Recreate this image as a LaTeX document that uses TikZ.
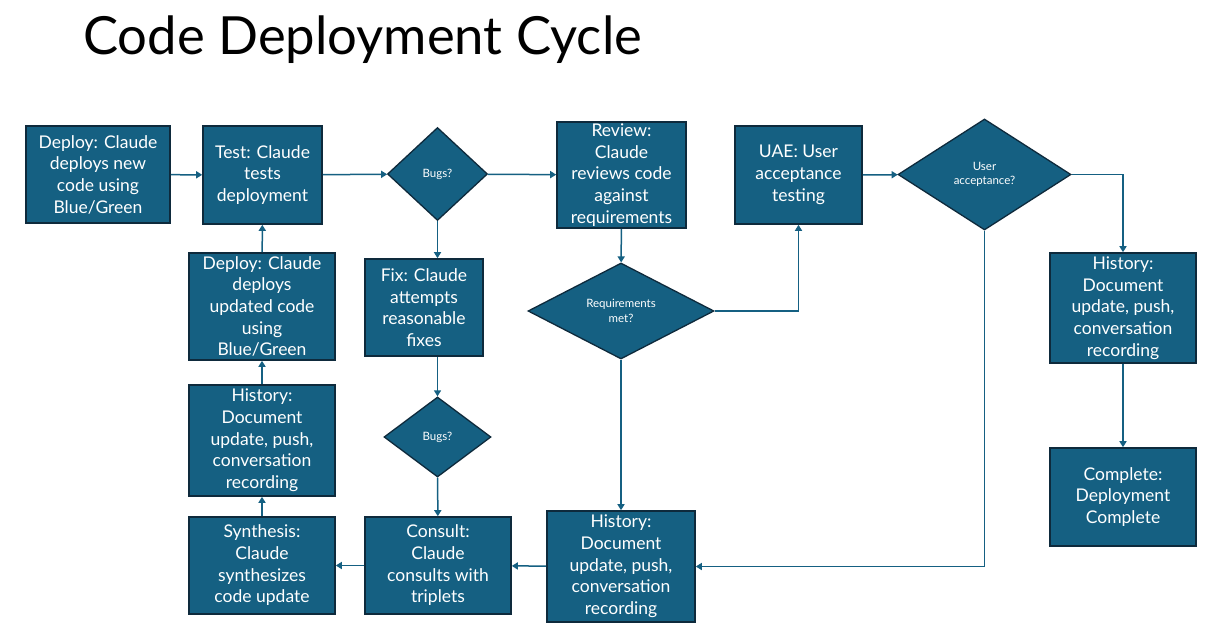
\documentclass[tikz,border=0pt]{standalone}
\usepackage{fontspec}
\setmainfont{Lato}
\usetikzlibrary{shapes.geometric,arrows.meta}
\definecolor{flowblue}{HTML}{156082}
\definecolor{flowedge}{HTML}{0E2A3C}
\begin{document}
\begin{tikzpicture}[
        x=1pt, y=-1pt,
        stepbox/.style={
            rectangle,
            draw=flowedge,
            fill=flowblue,
            line width=1.6pt,
            inner sep=0pt,
            text=white,
            align=center,
            font=\fontsize{17.5}{21.7}\selectfont
        },
        decision/.style={
            diamond,
            draw=flowedge,
            fill=flowblue,
            line width=1.3pt,
            inner sep=0pt,
            text=white,
            align=center,
            font=\fontsize{11.5}{14.5}\selectfont
        },
        arrow/.style={
            -{Triangle[width=7pt, length=6pt]},
            line width=1.5pt,
            draw=flowblue
        },
        title/.style={
            font=\fontsize{52.6}{58}\selectfont,
            inner sep=0pt
        }
    ]

    \fill[white] (0,0) rectangle (1216,626);

    % --- Title ---
    \node[title, anchor=base west] (title) at (83,55) {Code Deployment Cycle};

    % --- Top row ---
    \node[stepbox, minimum width=144pt, minimum height=97pt] (deploy) at (98,174.5) {Deploy: Claude\\deploys new\\code using\\Blue/Green};
    \node[stepbox, minimum width=119pt, minimum height=98pt] (test) at (262.5,175) {Test: Claude\\tests\\deployment};
    \node[decision, minimum width=100pt, minimum height=93pt] (bugs) at (437.5,174) {Bugs?};
    \node[stepbox, minimum width=129pt, minimum height=106pt] (review) at (621.5,175) {Review:\\Claude\\reviews code\\against\\requirements};
    \node[stepbox, minimum width=127pt, minimum height=98pt] (uae) at (798.5,175) {UAE: User\\acceptance\\testing};
    \node[decision, minimum width=173pt, minimum height=111pt] (accept) at (984.5,174.5) {User\\acceptance?};

    % --- Fix loop ---
    \node[stepbox, minimum width=118pt, minimum height=97pt] (fix) at (424,307.5) {Fix: Claude\\attempts\\reasonable\\fixes};
    \node[decision, minimum width=107pt, minimum height=80pt] (rebugs) at (437.5,437) {Bugs?};
    \node[decision, minimum width=186pt, minimum height=96pt] (reqmet) at (621,311) {Requirements\\met?};

    % --- Bottom row ---
    \node[stepbox, minimum width=148pt, minimum height=111pt] (histmid) at (621,566.5) {History:\\Document\\update, push,\\conversation\\recording};
    \node[stepbox, minimum width=146pt, minimum height=97pt] (consult) at (438,565.5) {Consult:\\Claude\\consults with\\triplets};
    \node[stepbox, minimum width=146pt, minimum height=97pt] (synth) at (262,565.5) {Synthesis:\\Claude\\synthesizes\\code update};
    \node[stepbox, minimum width=146pt, minimum height=111pt] (histleft) at (262,440.5) {History:\\Document\\update, push,\\conversation\\recording};
    \node[stepbox, minimum width=146pt, minimum height=107pt] (redeploy) at (262,306.5) {Deploy: Claude\\deploys\\updated code\\using\\Blue/Green};

    % --- Finish ---
    \node[stepbox, minimum width=146pt, minimum height=110pt] (histright) at (1123,308) {History:\\Document\\update, push,\\conversation\\recording};
    \node[stepbox, minimum width=146pt, minimum height=98pt] (complete) at (1123,497) {Complete:\\Deployment\\Complete};

    % Connectors
    \draw[arrow] (deploy) -- (test);
    \draw[arrow] (test) -- (bugs);
    \draw[arrow] (bugs) -- (review);
    \draw[arrow] (bugs) -- (fix.north -| bugs);
    \draw[arrow] (review) -- (reqmet);
    \draw[arrow] (reqmet.east) -| (uae.south);
    \draw[arrow] (uae) -- (accept);
    \draw[arrow] (accept.east) -| (histright.north);
    \draw[arrow] (histright) -- (complete);
    \draw[arrow] (accept.south) |- (histmid.east);
    \draw[arrow] (reqmet) -- (histmid);
    \draw[arrow] (fix.south -| rebugs) -- (rebugs);
    \draw[arrow] (rebugs) -- (consult);
    \draw[arrow] (histmid) -- (consult);
    \draw[arrow] (consult) -- (synth);
    \draw[arrow] (synth) -- (histleft);
    \draw[arrow] (histleft) -- (redeploy);
    \draw[arrow] (redeploy) -- (test);

\end{tikzpicture}
\end{document}
